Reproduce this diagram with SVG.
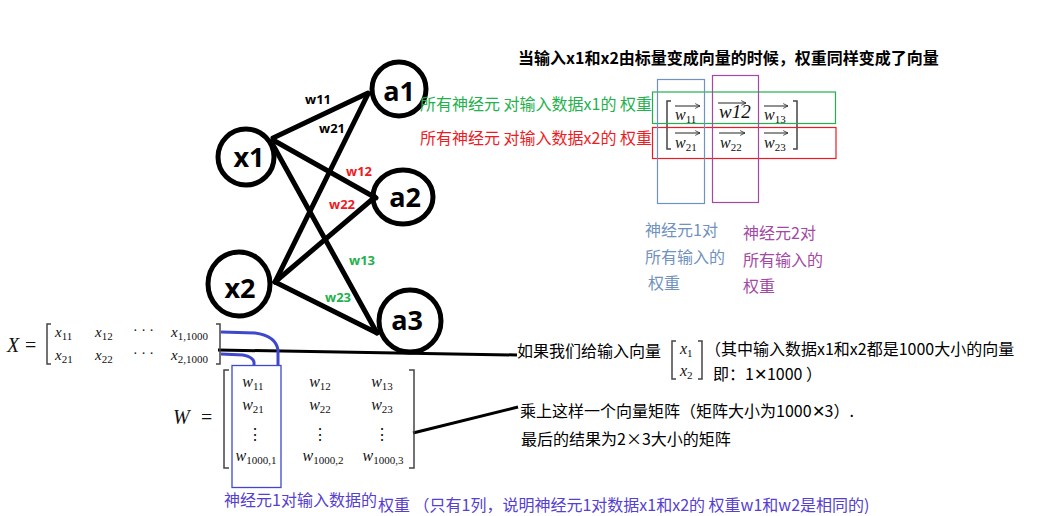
<svg xmlns="http://www.w3.org/2000/svg" width="1039" height="516" viewBox="0 0 1039 516">
<defs>
<style>
.node{fill:none;stroke:#000;stroke-width:5}
.nl{font-family:"Open Sans","Noto Sans",sans-serif;font-weight:bold;font-size:27px;fill:#000;text-anchor:middle}
.edge{stroke:#000;stroke-width:5;fill:none;stroke-linecap:round}
.wl{font-family:"Open Sans","Noto Sans",sans-serif;font-weight:bold;font-size:13px}
.cn{font-family:"Noto Sans CJK SC",sans-serif;font-size:16px}
.m{font-family:"Liberation Serif",serif;font-size:16px;fill:#111}
.mi{font-style:italic}
.sub{font-size:11px;font-style:normal}
.br{fill:none;stroke:#444;stroke-width:1.5}
.va{stroke:#222;stroke-width:1;fill:none}
</style>
<marker id="ah" viewBox="0 0 10 10" refX="9" refY="5" markerWidth="6" markerHeight="6" orient="auto" markerUnits="userSpaceOnUse"><path d="M1,1 L9,5 L1,9" fill="none" stroke="#222" stroke-width="1.3"/></marker>
</defs>
<rect width="1039" height="516" fill="#fff"/>

<g id="connectors">
<line class="edge" x1="273" y1="138" x2="368" y2="93"/>
<line class="edge" x1="273" y1="140" x2="376" y2="198"/>
<line class="edge" x1="273" y1="145" x2="377" y2="333"/>
<line class="edge" x1="275" y1="282" x2="368" y2="94"/>
<line class="edge" x1="275" y1="282" x2="375" y2="197"/>
<line class="edge" x1="275" y1="282" x2="377" y2="333"/>
<path d="M218,350 L517,355" stroke="#000" stroke-width="3" fill="none"/>
<path d="M413,433 L518,407" stroke="#000" stroke-width="3" fill="none"/>
<path d="M221,332 L255,333 Q276,336 278,350 L278,366" stroke="#3f48cc" stroke-width="3" fill="none"/>
<path d="M221,354 L243,355 Q253,357 254,362 L254,366" stroke="#3f48cc" stroke-width="3" fill="none"/>
</g>

<g id="weight-labels">
<text class="wl" x="318" y="104" text-anchor="middle" fill="#000">w11</text>
<text class="wl" x="332" y="133" text-anchor="middle" fill="#000">w21</text>
<text class="wl" x="359" y="176" text-anchor="middle" fill="#ed1c24">w12</text>
<text class="wl" x="342" y="209" text-anchor="middle" fill="#ed1c24">w22</text>
<text class="wl" x="362" y="265" text-anchor="middle" fill="#22b14c">w13</text>
<text class="wl" x="338" y="302" text-anchor="middle" fill="#22b14c">w23</text>
</g>

<g id="node-x1"><ellipse class="node" cx="246" cy="157" rx="28" ry="28"/><text class="nl" x="249" y="167">x1</text></g>
<g id="node-x2"><ellipse class="node" cx="239" cy="284" rx="31" ry="32"/><text class="nl" x="240" y="298">x2</text></g>
<g id="node-a1"><ellipse class="node" cx="399" cy="89" rx="27" ry="27"/><text class="nl" x="399" y="101">a1</text></g>
<g id="node-a2"><ellipse class="node" cx="403" cy="197" rx="30" ry="27"/><text class="nl" x="405" y="207">a2</text></g>
<g id="node-a3"><ellipse class="node" cx="410" cy="321" rx="31" ry="31"/><text class="nl" x="407" y="330">a3</text></g>

<g id="title">
<text x="518" y="64" font-family="'Noto Sans CJK SC',sans-serif" font-weight="bold" font-size="16px" fill="#000">当输入x1和x2由标量变成向量的时候，权重同样变成了向量</text>
</g>

<g id="vector-matrix">
<text class="cn" x="420" y="110" fill="#22b14c">所有神经元 对输入数据x1的 权重</text>
<text class="cn" x="420" y="144" fill="#ed1c24">所有神经元 对输入数据x2的 权重</text>
<path class="br" d="M671,101 L667,101 L667,149 L671,149"/>
<path class="br" d="M793,101 L797,101 L797,149 L793,149"/>
<g class="m" font-size="18px">
<text x="675" y="120" class="mi">w<tspan class="sub" dy="3">11</tspan></text>
<text x="719" y="118" class="mi" font-size="19px">w12</text>
<text x="764" y="120" class="mi">w<tspan class="sub" dy="3">13</tspan></text>
<text x="675" y="148" class="mi">w<tspan class="sub" dy="3">21</tspan></text>
<text x="720" y="148" class="mi">w<tspan class="sub" dy="3">22</tspan></text>
<text x="764" y="148" class="mi">w<tspan class="sub" dy="3">23</tspan></text>
</g>
<line class="va" x1="675" y1="106" x2="700" y2="106" marker-end="url(#ah)"/>
<line class="va" x1="718" y1="103" x2="746" y2="103" marker-end="url(#ah)"/>
<line class="va" x1="764" y1="106" x2="788" y2="106" marker-end="url(#ah)"/>
<line class="va" x1="675" y1="133" x2="700" y2="133" marker-end="url(#ah)"/>
<line class="va" x1="719" y1="133" x2="745" y2="133" marker-end="url(#ah)"/>
<line class="va" x1="764" y1="133" x2="788" y2="133" marker-end="url(#ah)"/>
<rect x="652.5" y="92" width="183" height="31.5" fill="none" stroke="#22b14c" stroke-width="1.2"/>
<rect x="652.5" y="127.5" width="183.5" height="31" fill="none" stroke="#ed1c24" stroke-width="1.2"/>
<rect x="657.5" y="79.5" width="47" height="124" fill="none" stroke="#7092be" stroke-width="1.2"/>
<rect x="712.5" y="75.5" width="46" height="127" fill="none" stroke="#a349a4" stroke-width="1.2"/>
</g>

<g id="neuron-notes">
<text class="cn" x="645" y="236" font-size="15px" fill="#7092be">神经元1对</text>
<text class="cn" x="645" y="263" font-size="15px" fill="#7092be">所有输入的</text>
<text class="cn" x="648" y="289" font-size="15px" fill="#7092be">权重</text>
<text class="cn" x="743" y="239" font-size="15px" fill="#a349a4">神经元2对</text>
<text class="cn" x="743" y="266" font-size="15px" fill="#a349a4">所有输入的</text>
<text class="cn" x="743" y="292" font-size="15px" fill="#a349a4">权重</text>
</g>

<g id="matrix-X" class="m">
<text x="7" y="352" class="mi" font-size="20px">X</text>
<text x="25" y="352" font-size="20px">=</text>
<path class="br" d="M51,324 L47,324 L47,364 L51,364"/>
<path class="br" d="M216,324 L220,324 L220,364 L216,364"/>
<text x="55" y="337" class="mi" font-size="15px">x<tspan class="sub" dy="3" font-size="10.5px">11</tspan></text>
<text x="95" y="337" class="mi" font-size="15px">x<tspan class="sub" dy="3" font-size="10.5px">12</tspan></text>
<text x="133" y="335" font-size="14px">· · ·</text>
<text x="171" y="337" class="mi" font-size="15px">x<tspan class="sub" dy="3" font-size="10.5px">1,1000</tspan></text>
<text x="55" y="360" class="mi" font-size="15px">x<tspan class="sub" dy="3" font-size="10.5px">21</tspan></text>
<text x="95" y="360" class="mi" font-size="15px">x<tspan class="sub" dy="3" font-size="10.5px">22</tspan></text>
<text x="133" y="358" font-size="14px">· · ·</text>
<text x="171" y="360" class="mi" font-size="15px">x<tspan class="sub" dy="3" font-size="10.5px">2,1000</tspan></text>
</g>

<g id="matrix-W" class="m">
<text x="173" y="424" class="mi" font-size="20px">W</text>
<text x="201" y="424" font-size="20px">=</text>
<path class="br" d="M229,370 L224,370 L224,468 L229,468"/>
<path class="br" d="M409,370 L414,370 L414,468 L409,468"/>
<g font-size="16px" text-anchor="middle">
<text x="253" y="387" class="mi">w<tspan class="sub" dy="3">11</tspan></text>
<text x="320" y="387" class="mi">w<tspan class="sub" dy="3">12</tspan></text>
<text x="382" y="387" class="mi">w<tspan class="sub" dy="3">13</tspan></text>
<text x="253" y="410" class="mi">w<tspan class="sub" dy="3">21</tspan></text>
<text x="320" y="410" class="mi">w<tspan class="sub" dy="3">22</tspan></text>
<text x="382" y="410" class="mi">w<tspan class="sub" dy="3">23</tspan></text>
<text x="255" y="440">⋮</text>
<text x="320" y="440">⋮</text>
<text x="382" y="440">⋮</text>
<text x="256" y="461" class="mi">w<tspan class="sub" dy="3">1000,1</tspan></text>
<text x="323" y="461" class="mi">w<tspan class="sub" dy="3">1000,2</tspan></text>
<text x="383" y="461" class="mi">w<tspan class="sub" dy="3">1000,3</tspan></text>
</g>
<rect x="232" y="365.5" width="49" height="122" fill="none" stroke="#3f48cc" stroke-width="1.3"/>
</g>

<g id="explanations">
<text class="cn" x="517" y="357" fill="#000">如果我们给输入向量</text>
<path class="br" d="M676,341 L672,341 L672,379 L676,379"/>
<path class="br" d="M698,341 L702,341 L702,379 L698,379"/>
<text x="680" y="354" class="m mi" font-size="15px">x<tspan class="sub" dy="3" font-size="10.5px">1</tspan></text>
<text x="680" y="376" class="m mi" font-size="15px">x<tspan class="sub" dy="3" font-size="10.5px">2</tspan></text>
<text class="cn" x="705" y="355" fill="#000">（其中输入数据x1和x2都是1000大小的向量</text>
<text class="cn" x="713" y="380" fill="#000">即：1✕1000 ）</text>
<text class="cn" x="520" y="417" font-size="15.5px" fill="#000">乘上这样一个向量矩阵（矩阵大小为1000✕3）.</text>
<text class="cn" x="521" y="445" font-size="15px" fill="#000">最后的结果为2×3大小的矩阵</text>
</g>

<g id="bottom-note">
<text class="cn" x="224" y="506" fill="#5540d0">神经元1对输入数据的</text>
<text class="cn" x="378" y="511" font-size="15.5px" fill="#5540d0">权重 （只有1列，说明神经元1对数据x1和x2的 权重w1和w2是相同的)</text>
</g>
</svg>
